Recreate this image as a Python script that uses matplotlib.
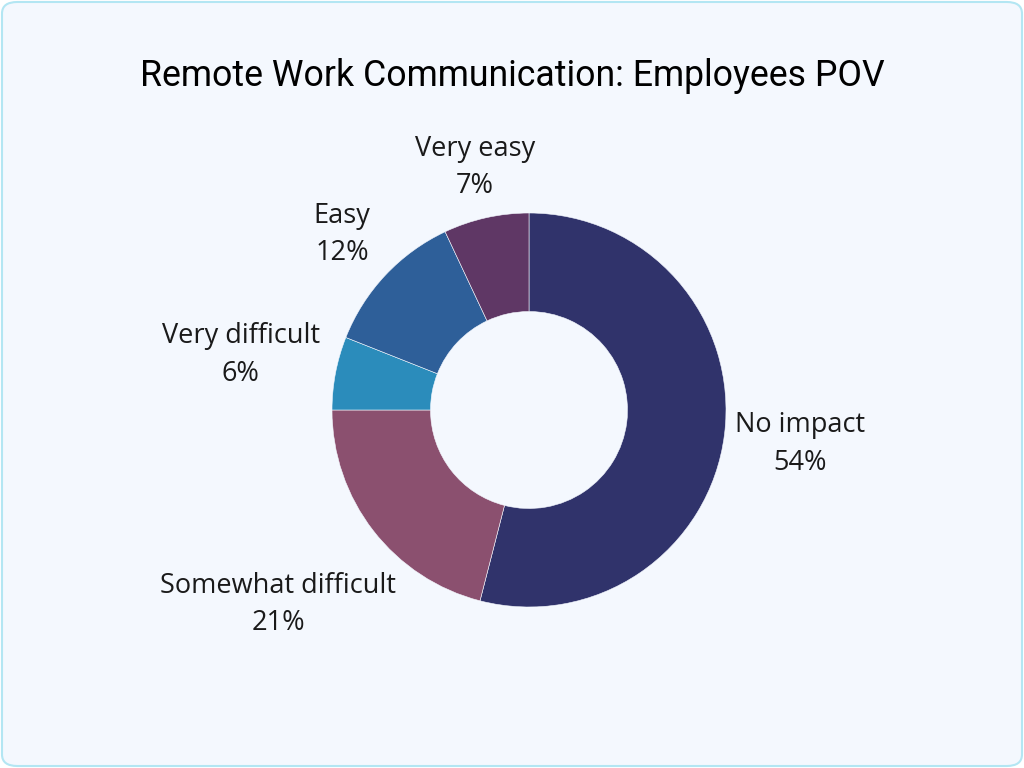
import matplotlib.pyplot as plt
import numpy as np
from matplotlib.patches import FancyBboxPatch

# survey answers, in drawing order (clockwise from the top)
categories = ["No impact", "Somewhat difficult", "Very difficult", "Easy", "Very easy"]
shares = [54, 21, 6, 12, 7]
colors = ["#30336b", "#8b506f", "#2b8cbb", "#2e5f99", "#5f3765"]
# how far out each label sits (in pie radii)
label_dist = [1.385, 1.61, 1.49, 1.30, 1.26]

title = "Remote Work Communication: Employees POV"

W, H = 1024, 768
fig = plt.figure(figsize=(W / 100, H / 100), dpi=100)
fig.patch.set_facecolor("white")

# rounded panel behind everything
panel = FancyBboxPatch((2 / W, 2 / H), 1 - 4 / W, 1 - 4 / H,
                       boxstyle="round,pad=0,rounding_size=0.015",
                       transform=fig.transFigure, facecolor="#f4f8fe",
                       edgecolor="#b3e6f3", linewidth=1.5, zorder=-10)
fig.patches.append(panel)

# square axes centred on the donut
cx, cy, r_px, side = 529, 410, 197, 700
ax = fig.add_axes([(cx - side / 2) / W, (H - cy - side / 2) / H, side / W, side / H])
ax.set_zorder(1)
ax.set_facecolor("none")
ax.set_aspect("equal")
ax.axis("off")

wedges, _ = ax.pie(shares, colors=colors, startangle=90, counterclock=False,
                   radius=1, wedgeprops=dict(width=0.5, edgecolor="#f4f8fe", linewidth=0.4))
lim = side / 2 / r_px
ax.set_xlim(-lim, lim)
ax.set_ylim(-lim, lim)

for w, name, pct, d in zip(wedges, categories, shares, label_dist):
    mid = np.deg2rad((w.theta1 + w.theta2) / 2)
    ax.text(d * np.cos(mid), d * np.sin(mid), f"{name}\n{pct}%",
            ha="center", va="center", fontsize=19.5, family="Open Sans",
            color="#1a1a1a", linespacing=1.45)

fig.text(0.5, 1 - 76 / H, title, ha="center", va="center", fontsize=25.7,
         family="Roboto", color="#000000")

fig.savefig("out.png", dpi=100)
